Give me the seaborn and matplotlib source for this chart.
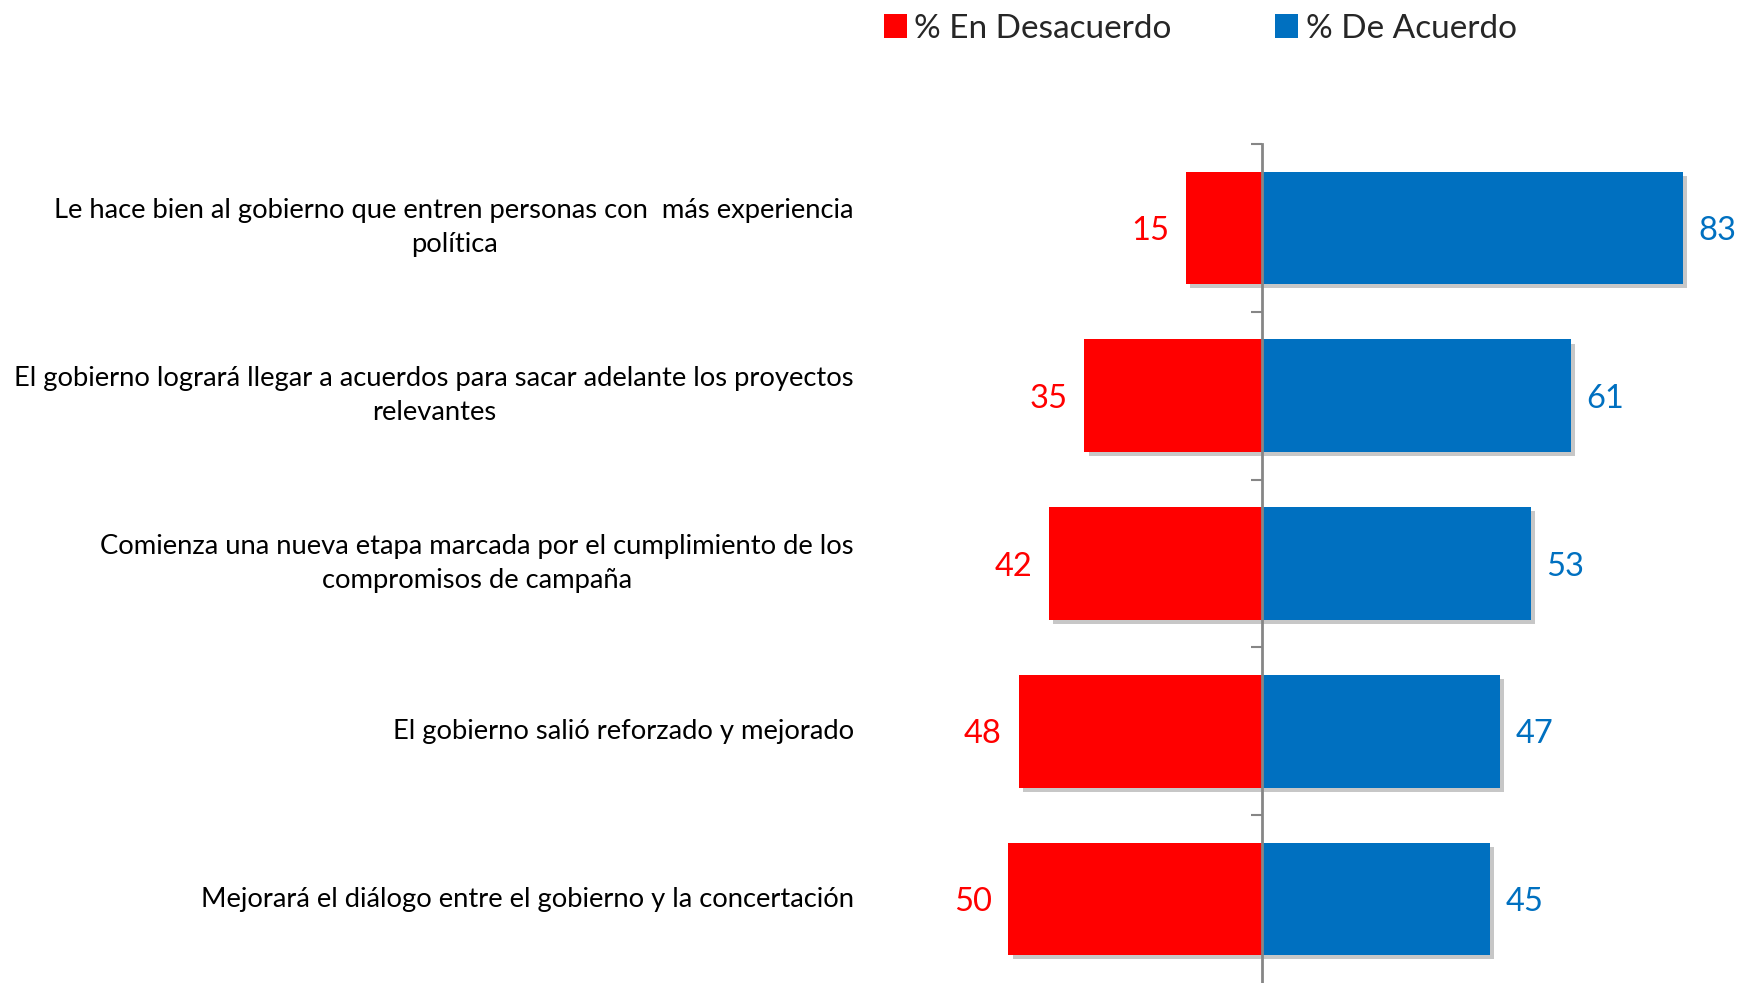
import matplotlib
matplotlib.use("Agg")
import matplotlib.pyplot as plt
import matplotlib.patheffects as pe
from matplotlib.patches import Patch
import seaborn as sns
import pandas as pd

categories = [
    "Le hace bien al gobierno que entren personas con  más experiencia\npolítica",
    "El gobierno logrará llegar a acuerdos para sacar adelante los proyectos\nrelevantes",
    "Comienza una nueva etapa marcada por el cumplimiento de los\ncompromisos de campaña",
    "El gobierno salió reforzado y mejorado",
    "Mejorará el diálogo entre el gobierno y la concertación",
]
desacuerdo = [15, 35, 42, 48, 50]
acuerdo = [83, 61, 53, 47, 45]
series_names = ["% En Desacuerdo", "% De Acuerdo"]

RED = "#FF0000"
BLUE = "#0070C0"
GRAY = "#868686"

sns.set_theme(style="white")
plt.rcParams["font.family"] = ["Lato", "DejaVu Sans"]

df = pd.DataFrame({"cat": categories, "des": [-v for v in desacuerdo], "acu": acuerdo})

fig = plt.figure(figsize=(17.37, 9.83), dpi=100)
ax = fig.add_axes([0.5, 0.0, 0.5, 0.8535])

shadow = [pe.SimplePatchShadow(offset=(3, -3), shadow_rgbFace="black", alpha=0.22), pe.Normal()]
sns.barplot(data=df, y="cat", x="des", color=RED, saturation=1, width=0.67, ax=ax, orient="h")
sns.barplot(data=df, y="cat", x="acu", color=BLUE, saturation=1, width=0.67, ax=ax, orient="h")
for p in ax.patches:
    p.set_path_effects(shadow)
    p.set_edgecolor("none")

ax.set_xlim(-77.6, 93.7)
ax.set_ylim(len(categories) - 0.5, -0.5)

lbl_red = ax.bar_label(ax.containers[0], labels=[str(v) for v in desacuerdo], padding=12, color=RED, fontsize=23.5)
lbl_blue = ax.bar_label(ax.containers[1], labels=[str(v) for v in acuerdo], padding=11, color=BLUE, fontsize=23.5)
for t in list(lbl_red) + list(lbl_blue):
    t.set_va("center_baseline")

for s in ["top", "right", "bottom"]:
    ax.spines[s].set_visible(False)
ax.spines["left"].set_position(("data", 0))
ax.spines["left"].set_color(GRAY)
ax.spines["left"].set_linewidth(2)
ax.spines["left"].set_zorder(3)
ax.set_yticks([i - 0.5 for i in range(len(categories))])
ax.set_yticklabels([])
ax.tick_params(axis="y", direction="out", length=8, width=1.5, color=GRAY, left=True)
ax.set_xticks([])
ax.set_xlabel("")
ax.set_ylabel("")

tr = ax.get_yaxis_transform()
for i, c in enumerate(categories):
    ax.text(-0.0167, i, c, transform=tr, ha="right", va="center", ma="center",
            fontsize=19.7, color="black", linespacing=1.45)

handles = [Patch(facecolor=RED, edgecolor="none"), Patch(facecolor=BLUE, edgecolor="none")]
fig.legend(handles, series_names, loc="center", bbox_to_anchor=(0.691, 0.971), ncol=2,
           frameon=False, fontsize=24, handlelength=0.7, handleheight=0.7,
           handletextpad=0.22, columnspacing=3.1)

fig.savefig("out.png", dpi=100)
